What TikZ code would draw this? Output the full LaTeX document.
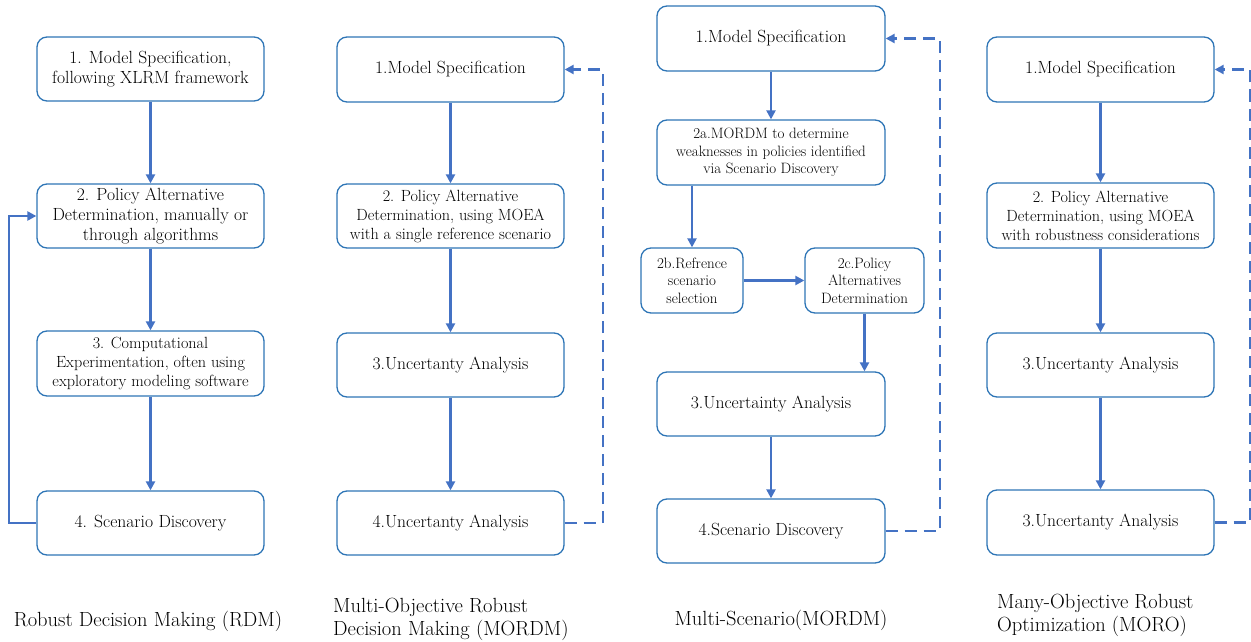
\documentclass[tikz,border=0pt]{standalone}
\usetikzlibrary{arrows.meta}
\definecolor{boxblue}{RGB}{46,117,182}
\definecolor{arrblue}{RGB}{68,114,196}
\tikzset{
  box/.style={draw=boxblue, line width=1.3pt, rounded corners=10pt, align=center, inner sep=2pt, font=\fontsize{17.6}{20}\selectfont},
  wbox/.style={box, minimum width=227pt, minimum height=64pt},
  midtxt/.style={font=\fontsize{16.2}{19}\selectfont},
  smalltxt/.style={font=\fontsize{15}{17.5}\selectfont},
  arr/.style={draw=arrblue, line width=2.2pt, -{Triangle[length=9pt,width=9pt]}},
  darr/.style={arr, dash pattern=on 12pt off 7pt},
  captxt/.style={font=\fontsize{20.5}{23}\selectfont, align=left, inner sep=0pt}
}
\begin{document}
\begin{tikzpicture}[x=1pt,y=-1pt]
\useasboundingbox (0,0) rectangle (1251,642);
% Column 1: RDM
\node[wbox] (a1) at (150.5,69) {1. Model Specification,\\following XLRM framework};
\node[wbox] (a2) at (150.5,216) {2. Policy Alternative\\Determination, manually or\\through algorithms};
\node[wbox, midtxt, minimum height=65pt] (a3) at (150.5,363.5) {3. Computational\\Experimentation, often using\\exploratory modeling software};
\node[wbox] (a4) at (150.5,523) {4. Scenario Discovery};
\draw[arr] (a1) -- (a2);
\draw[arr] (a2) -- (a3);
\draw[arr] (a3) -- (a4);
\draw[arr] (a4.west) -- ++(-27,0) |- (a2.west);
\node[captxt, align=center] (ca) at (148,621) {Robust Decision Making (RDM)};
% Column 2: MORDM
\node[wbox, minimum height=65pt] (b1) at (450.5,69.5) {1.Model Specification};
\node[wbox, midtxt] (b2) at (450.5,216) {2. Policy Alternative\\Determination, using MOEA\\with a single reference scenario};
\node[wbox] (b3) at (450.5,365) {3.Uncertanty Analysis};
\node[wbox] (b4) at (450.5,523) {4.Uncertanty Analysis};
\draw[arr] (b1) -- (b2);
\draw[arr] (b2) -- (b3);
\draw[arr] (b3) -- (b4);
\draw[darr] (b4.east) -- ++(38,0) |- (b1.east);
\node[captxt, anchor=west] (cb) at (333,619) {Multi-Objective Robust\\Decision Making (MORDM)};
% Column 3: Multi-Scenario
\node[wbox, minimum width=228pt, minimum height=65pt] (c1) at (771,38.5) {1.Model Specification};
\node[wbox, smalltxt, minimum width=228pt, minimum height=65pt] (c2a) at (771,152.5) {2a.MORDM to determine\\weaknesses in policies identified\\via Scenario Discovery};
\node[box, smalltxt, minimum width=102pt, minimum height=65pt] (c2b) at (692,280.5) {2b.Refrence\\scenario\\selection};
\node[box, smalltxt, minimum width=119pt, minimum height=65pt] (c2c) at (864.5,280.5) {2c.Policy\\Alternatives\\Determination};
\node[wbox, minimum width=228pt] (c3) at (771,404) {3.Uncertainty Analysis};
\node[wbox, minimum width=228pt] (c4) at (771,531) {4.Scenario Discovery};
\draw[arr] (c1) -- (c2a);
\draw[arr] (c2b.north |- c2a.south) -- (c2b.north);
\draw[arr] (c2b) -- (c2c);
\draw[arr] (c2c.south) -- (c2c.south |- c3.north);
\draw[arr] (c3) -- (c4);
\draw[darr] (c4.east) -- ++(54,0) |- (c1.east);
\node[captxt, align=center] (cc) at (781,620) {Multi-Scenario(MORDM)};
% Column 4: MORO
\node[wbox, minimum height=65pt] (d1) at (1100.5,69.5) {1.Model Specification};
\node[wbox, midtxt, minimum height=65pt] (d2) at (1100.5,215.5) {2. Policy Alternative\\Determination, using MOEA\\with robustness considerations};
\node[wbox] (d3) at (1100.5,365) {3.Uncertanty Analysis};
\node[wbox, minimum height=65pt] (d4) at (1100.5,522.5) {3.Uncertanty Analysis};
\draw[arr] (d1) -- (d2);
\draw[arr] (d2) -- (d3);
\draw[arr] (d3) -- (d4);
\draw[darr] (d4.east) -- ++(35,0) |- (d1.east);
\node[captxt, anchor=west] (cd) at (997,615) {Many-Objective Robust\\Optimization (MORO)};
\end{tikzpicture}
\end{document}
